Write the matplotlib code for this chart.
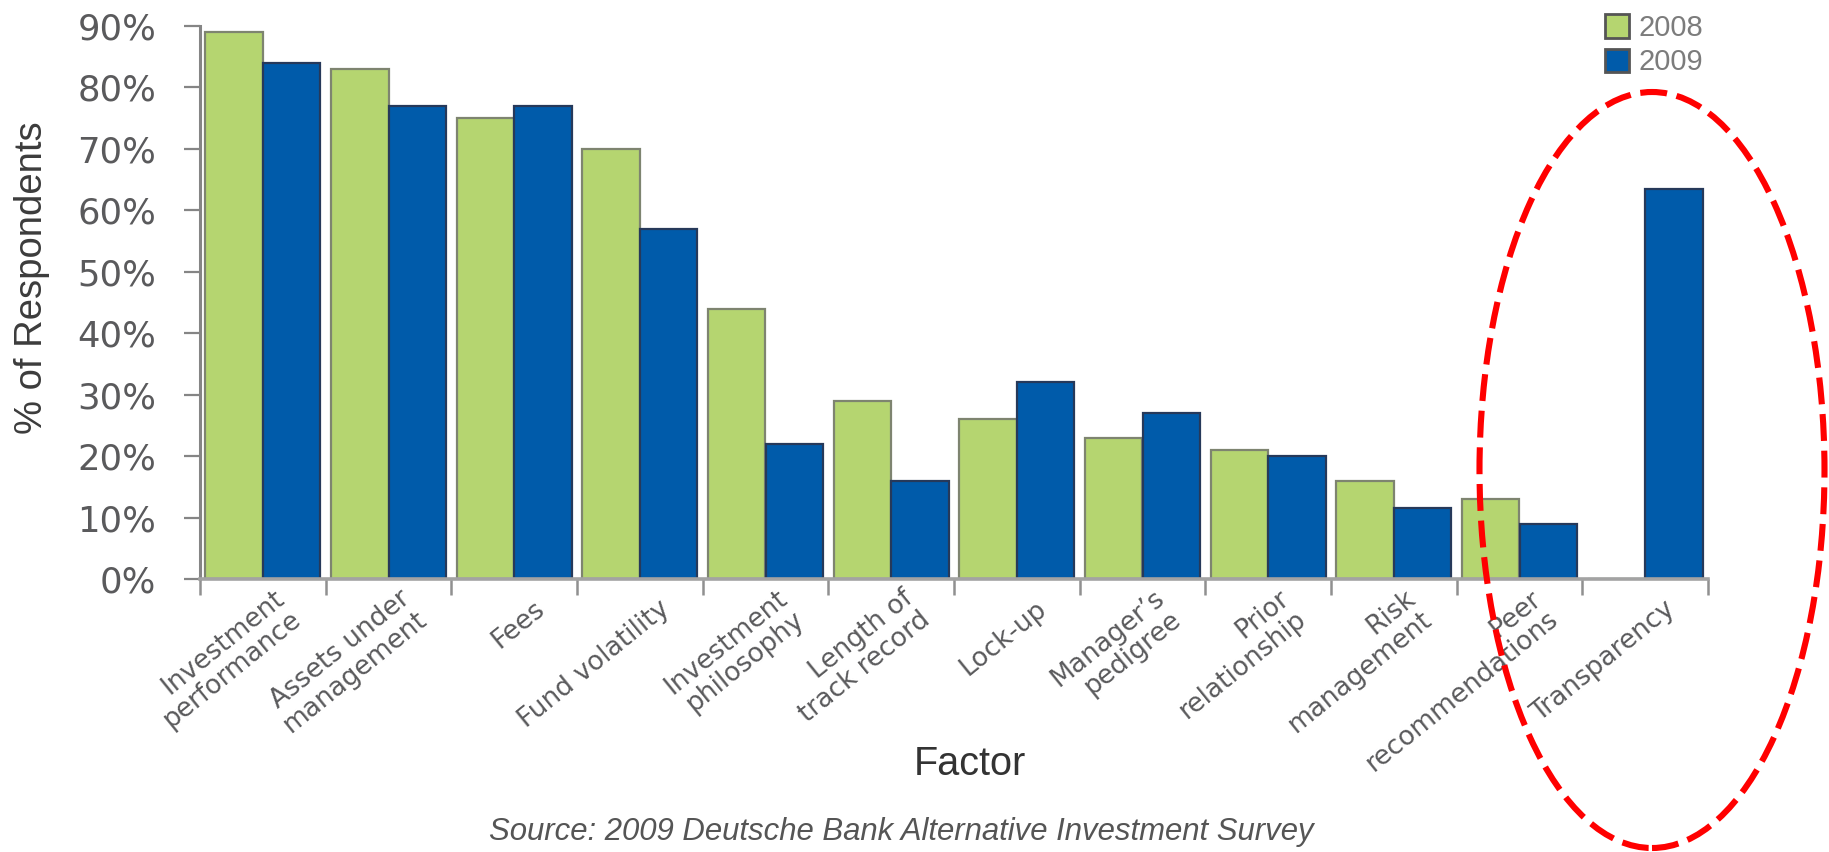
import matplotlib
matplotlib.use("Agg")
import matplotlib.pyplot as plt
import numpy as np
from matplotlib.patches import Ellipse
from matplotlib.transforms import offset_copy

# ---------------- data ----------------
categories = ["Investment\nperformance", "Assets under\nmanagement", "Fees",
              "Fund volatility", "Investment\nphilosophy", "Length of\ntrack record",
              "Lock-up", "Manager\u2019s\npedigree", "Prior\nrelationship",
              "Risk\nmanagement", "Peer\nrecommendations", "Transparency"]
values_2008 = [89, 83, 75, 70, 44, 29, 26, 23, 21, 16, 13, 0]
values_2009 = [84, 77, 77, 57, 22, 16, 32, 27, 20, 11.5, 9, 63.5]
series_names = ["2008", "2009"]
y_ticks = [0, 10, 20, 30, 40, 50, 60, 70, 80, 90]
y_tick_labels = ["0%", "10%", "20%", "30%", "40%", "50%", "60%", "70%", "80%", "90%"]
y_label = "% of Respondents"
x_label = "Factor"
source = "Source: 2009 Deutsche Bank Alternative Investment Survey"

# ---------------- style ----------------
W, H = 1829, 852
DPI = 100
green = "#B5D570"
blue = "#005BAA"
green_edge = "#7E8470"
blue_edge = "#26395A"
tick_col = "#5A5A5C"
plt.rcParams['font.family'] = ['Liberation Sans', 'DejaVu Sans']

fig = plt.figure(figsize=(W / DPI, H / DPI), dpi=DPI)
ax_l, ax_r, ax_t, ax_b = 200, 1708, 26, 579
ax = fig.add_axes([ax_l / W, 1 - ax_b / H, (ax_r - ax_l) / W, (ax_b - ax_t) / H])

n = len(categories)
centers = np.arange(n) + 0.5
bw = 0.457
ax.bar(centers - bw / 2, values_2008, width=bw, color=green, edgecolor=green_edge,
       linewidth=1.6, label=series_names[0], zorder=2)
ax.bar(centers + bw / 2, values_2009, width=bw, color=blue, edgecolor=blue_edge,
       linewidth=1.6, label=series_names[1], zorder=2)

ax.set_xlim(0, n)
ax.set_ylim(0, 90)

for s in ["top", "right"]:
    ax.spines[s].set_visible(False)
ax.spines["left"].set_color("#858585")
ax.spines["left"].set_linewidth(2.2)
ax.spines["bottom"].set_color("#A3A3A3")
ax.spines["bottom"].set_linewidth(2.6)
ax.spines["left"].set_zorder(3)
ax.spines["bottom"].set_zorder(3)

ax.set_yticks(y_ticks)
ax.set_yticklabels(y_tick_labels, family=['DejaVu Sans'])
ax.tick_params(axis="y", direction="out", length=11.5, width=1.6, color="#858585",
               pad=20, labelsize=25.5, labelcolor=tick_col)
ax.set_xticks(np.arange(n + 1))
ax.set_xticklabels([])
ax.tick_params(axis="x", direction="out", length=11.5, width=1.8, color="#909090")

# rotated category labels: right-centre of each label block sits below the category
lab_tr = offset_copy(ax.get_xaxis_transform(), fig=fig, x=27, y=-27, units="dots")
for c, lab in zip(centers, categories):
    ax.text(c, 0, lab, transform=lab_tr, rotation=39, rotation_mode="anchor",
            ha="right", va="center", multialignment="right", fontsize=19,
            color=tick_col, clip_on=False, family=['DejaVu Sans'],
            linespacing=1.05)

# axis titles
fig.text(32 / W, 1 - 278 / H, y_label, rotation=90, ha="center", va="center",
         fontsize=27.5, color="#3C3C3C")
fig.text(970 / W, 1 - 764 / H, x_label, ha="center", va="center",
         fontsize=28.5, color="#333333")
src = fig.text(901 / W, 1 - 832 / H, source, ha="center", va="center",
               fontsize=21, style="italic", color="#555555",
               family=['Liberation Sans Narrow', 'Liberation Sans', 'DejaVu Sans'])
# fit the source line to the reference width
fig.canvas.draw()
bb = src.get_window_extent()
src.set_fontsize(21 * 827 / bb.width)

# legend
leg = ax.legend(loc="upper left", bbox_to_anchor=(1605 / W, 1 - 14 / H),
                bbox_transform=fig.transFigure, frameon=False, fontsize=21,
                handlelength=0.82, handleheight=0.86, handletextpad=0.32,
                labelspacing=0.22, borderpad=0, borderaxespad=0)
for t in leg.get_texts():
    t.set_color("#7C7C7C")
for h in leg.legend_handles:
    h.set_edgecolor("#555555")
    h.set_linewidth(2)

# red dashed ellipse highlighting "Transparency"
ell = Ellipse((1652 / W, 1 - 470 / H), 345 / W, 756 / H, transform=fig.transFigure,
              fill=False, edgecolor="#FF0000", linewidth=4.4,
              linestyle=(0, (4.4, 1.6)), zorder=10, clip_on=False)
fig.add_artist(ell)

fig.savefig("out.png", dpi=DPI)
